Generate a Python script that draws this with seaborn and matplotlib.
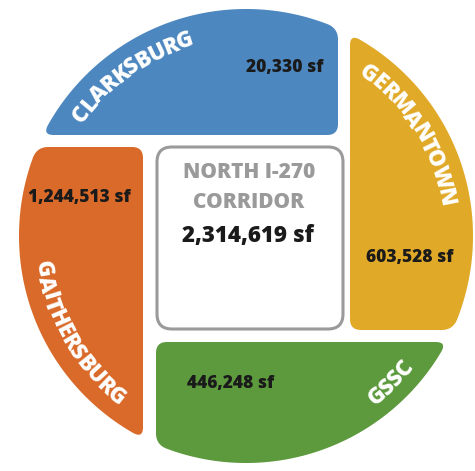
import numpy as np
import matplotlib
matplotlib.use("Agg")
import matplotlib.pyplot as plt
from matplotlib.patches import FancyBboxPatch
from matplotlib.font_manager import FontProperties
import seaborn as sns

# data
regions = ["CLARKSBURG", "GERMANTOWN", "GSSC", "GAITHERSBURG"]
square_feet = [20330, 603528, 446248, 1244513]
corridor_name = ["NORTH I-270", "CORRIDOR"]
corridor_total = 2314619
region_colors = ["#4d87bf", "#e1a928", "#5c9a3d", "#d96a29"]

sns.set_theme(style="white")
plt.rcParams["font.family"] = ["Open Sans", "DejaVu Sans"]
palette = sns.color_palette(region_colors)

# layout (pixel coords, y down)
CX, CY, R = 246, 236, 227
# inner corner of each quadrant piece and the direction it extends
corners = [(338, 135, -1, -1), (350, 330, 1, -1), (156, 342, 1, 1), (143, 147, -1, 1)]
# curved label: mid angle, radius, tops outward?
arc_labels = [(125.5, 204, True), (32.0, 203, True), (-45.5, 207, False), (210.0, 206, False)]
value_pos = [(285, 67), (410, 257), (231, 383), (79, 198)]
WEIGHT = 800


def sample_line(p, q):
    n = max(int(np.hypot(*(q - p))), 2)
    t = np.linspace(0, 1, n)[:, None]
    return p + (q - p) * t


def fillet(pts, k, r):
    a, d = k, 0
    while a > 0 and d < r:
        d += np.hypot(*(pts[a] - pts[a - 1]))
        a -= 1
    b, d = k, 0
    while b < len(pts) - 1 and d < r:
        d += np.hypot(*(pts[b + 1] - pts[b]))
        b += 1
    t = np.linspace(0, 1, 24)[:, None]
    curve = (1 - t) ** 2 * pts[a] + 2 * (1 - t) * t * pts[k] + t ** 2 * pts[b]
    return np.vstack([pts[:a], curve, pts[b + 1:]])


def quadrant_piece(qx, qy, sx, sy, r=11):
    q = np.array([qx, qy], float)
    p1 = np.array([qx, CY + sy * np.sqrt(R ** 2 - (qx - CX) ** 2)])
    p2 = np.array([CX + sx * np.sqrt(R ** 2 - (qy - CY) ** 2), qy])
    a1 = np.arctan2(p1[1] - CY, p1[0] - CX)
    a2 = np.arctan2(p2[1] - CY, p2[0] - CX)
    da = (a2 - a1 + np.pi) % (2 * np.pi) - np.pi
    n = int(abs(da) * R)
    ang = a1 + da * np.linspace(0, 1, n)
    arc = np.column_stack([CX + R * np.cos(ang), CY + R * np.sin(ang)])
    half = n // 2
    # start mid-arc so no corner sits on the wrap
    seg1 = arc[half:]
    seg2 = sample_line(p2, q)[1:]
    seg3 = sample_line(q, p1)[1:]
    seg4 = arc[1:half + 1]
    pts = np.vstack([seg1, seg2, seg3, seg4])
    i_p2 = len(seg1) - 1
    i_q = i_p2 + len(seg2)
    i_p1 = i_q + len(seg3)
    for k in sorted([i_p2, i_q, i_p1], reverse=True):
        pts = fillet(pts, k, r)
    return pts


fig = plt.figure(figsize=(4.75, 4.71), dpi=100)
ax = fig.add_axes([0, 0, 1, 1])
ax.set_xlim(0, 475)
ax.set_ylim(471, 0)
ax.axis("off")
renderer = fig.canvas.get_renderer()


def arc_text(s, mid_deg, radius, outward, size=16, track=-0.7):
    fp = FontProperties(family="Open Sans", weight=WEIGHT, size=size)
    w = [0.0]
    for i in range(1, len(s) + 1):
        w.append(renderer.get_text_width_height_descent(s[:i], fp, ismath=False)[0] + track * (i - 1))
    total = w[-1]
    mid = np.radians(mid_deg)
    for i, ch in enumerate(s):
        c = (w[i] + w[i + 1] - track) / 2 - total / 2
        if outward:
            ang = mid - c / radius
            rot = np.degrees(ang) - 90
        else:
            ang = mid + c / radius
            rot = np.degrees(ang) + 90
        x = CX + radius * np.cos(ang)
        y = CY - radius * np.sin(ang)
        ax.text(x, y, ch, rotation=rot, rotation_mode="anchor", ha="center", va="center",
                fontproperties=fp, color="white")


for name, sf, col, (qx, qy, sx, sy), (mid, rad, out), (vx, vy) in zip(
        regions, square_feet, palette, corners, arc_labels, value_pos):
    pts = quadrant_piece(qx, qy, sx, sy)
    ax.fill(pts[:, 0], pts[:, 1], color=col, lw=0)
    arc_text(name, mid, rad, out)
    ax.text(vx, vy, f"{sf:,} sf", ha="center", va="center", fontsize=12.5,
            fontweight=WEIGHT, color="#1a1a1a")

box = FancyBboxPatch((157, 147), 186, 182, boxstyle="round,pad=0,rounding_size=15",
                     fc="white", ec="#9a9a9a", lw=2.2)
ax.add_patch(box)
ax.text(249, 172, corridor_name[0], ha="center", va="center", fontsize=15,
        fontweight=WEIGHT, color="#9a9a9a")
ax.text(249, 203, corridor_name[1], ha="center", va="center", fontsize=15,
        fontweight=WEIGHT, color="#9a9a9a")
ax.text(248, 236, f"{corridor_total:,} sf", ha="center", va="center", fontsize=16,
        fontweight=WEIGHT, color="#1a1a1a")

fig.savefig("out.png", dpi=100, facecolor="white")
